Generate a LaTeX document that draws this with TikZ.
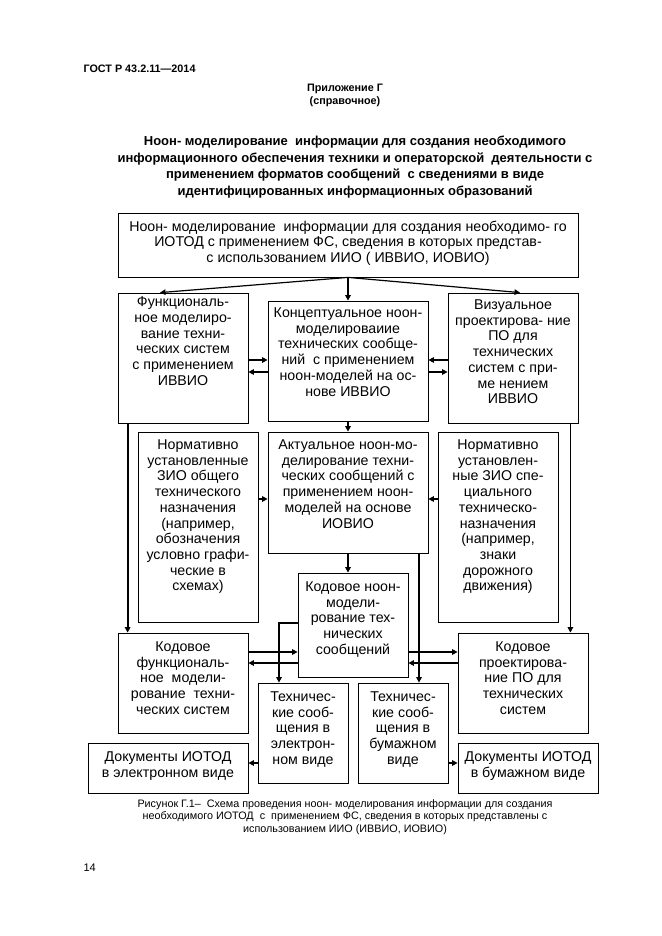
\documentclass[tikz,border=0pt]{standalone}
\usepackage{fontspec}
\setmainfont{Liberation Sans}
\usetikzlibrary{arrows.meta}

\begin{document}
\begin{tikzpicture}[x=1pt,y=-1pt,>={Triangle[length=5.5pt,width=5.5pt]},
    box/.style={draw,line width=0.8pt,inner sep=0pt},
    boxtext/.style={align=center,inner sep=0pt,font=\fontsize{14.2}{15.7}\selectfont},
    link/.style={->,line width=1.8pt}]
    \useasboundingbox (0,0) rectangle (661,936);

    \node [anchor=west,font=\fontsize{10.8}{13}\selectfont\bfseries] (gostNode) at (80,69) {ГОСТ Р 43.2.11—2014};
    \node [align=center,font=\fontsize{10.8}{13}\selectfont\bfseries] (appendixNode) at (345,95) {Приложение Г\\(справочное)};
    \node [align=center,font=\fontsize{13}{16.4}\selectfont\bfseries] (titleNode) at (355,167) {Ноон- моделирование\ \ информации для создания необходимого\\информационного обеспечения техники и операторской\ \ деятельности с\\применением форматов сообщений\ \ с сведениями в виде\\идентифицированных информационных образований};

    % boxes
    \node [box,minimum width=460pt,minimum height=64pt] (topNode) at (348,245) {};
    \node [box,minimum width=130pt,minimum height=130pt] (funcNode) at (183,358) {};
    \node [box,minimum width=160pt,minimum height=120pt] (conceptNode) at (348,361) {};
    \node [box,minimum width=130pt,minimum height=130pt] (visualNode) at (513,358) {};
    \node [box,minimum width=120pt,minimum height=190pt] (normLeftNode) at (198,527) {};
    \node [box,minimum width=160pt,minimum height=121pt] (actualNode) at (348,492.5) {};
    \node [box,minimum width=120pt,minimum height=190pt] (normRightNode) at (498,527) {};
    \node [box,minimum width=110pt,minimum height=104pt] (kodNoonNode) at (353,625) {};
    \node [box,minimum width=130pt,minimum height=100pt] (kodFuncNode) at (183,683) {};
    \node [box,minimum width=130pt,minimum height=100pt] (kodProjNode) at (523,683) {};
    \node [box,minimum width=90pt,minimum height=100pt] (techElNode) at (303,733) {};
    \node [box,minimum width=90pt,minimum height=100pt] (techPaperNode) at (403,733) {};
    \node [box,minimum width=160pt,minimum height=50pt] (docElNode) at (168,768) {};
    \node [box,minimum width=140pt,minimum height=50pt] (docPaperNode) at (528,768) {};

    \node [boxtext,below=8pt] (topText) at (topNode.north) {Ноон- моделирование\ \ информации для создания необходимо- го\\ИОТОД с применением ФС, сведения в которых представ-\\с использованием ИИО ( ИВВИО, ИОВИО)};
    \node [boxtext,below=4pt] (funcText) at (funcNode.north) {Функциональ-\\ное моделиро-\\вание техни-\\ческих систем\\с применением\\ИВВИО};
    \node [boxtext,below=7pt] (conceptText) at (conceptNode.north) {Концептуальное ноон-\\моделироваиие\\технических сообще-\\ний\ \ с применением\\ноон-моделей на ос-\\нове ИВВИО};
    \node [boxtext,below=7pt] (visualText) at (visualNode.north) {Визуальное\\проектирова- ние\\ПО для\\технических\\систем с при-\\ме нением\\ИВВИО};
    \node [boxtext,below=8pt] (normLeftText) at (normLeftNode.north) {Нормативно\\установленные\\ЗИО общего\\технического\\назначения\\(например,\\обозначения\\условно графи-\\ческие в\\схемах)};
    \node [boxtext,below=8pt] (actualText) at (actualNode.north) {Актуальное ноон-мо-\\делирование техни-\\ческих сообщений с\\применением ноон-\\моделей на основе\\ИОВИО};
    \node [boxtext,below=8pt] (normRightText) at (normRightNode.north) {Нормативно\\установлен-\\ные ЗИО спе-\\циального\\техническо-\\назначения\\(например,\\знаки\\дорожного\\движения)};
    \node [boxtext,below=9pt] (kodNoonText) at (kodNoonNode.north) {Кодовое ноон-\\модели-\\рование тех-\\нических\\сообщений};
    \node [boxtext,below=9pt] (kodFuncText) at (kodFuncNode.north) {Кодовое\\функциональ-\\ное\ \ модели-\\рование\ \ техни-\\ческих систем};
    \node [boxtext,below=9pt] (kodProjText) at (kodProjNode.north) {Кодовое\\проектирова-\\ние ПО для\\технических\\систем};
    \node [boxtext,below=9pt] (techElText) at (techElNode.north) {Техничес-\\кие сооб-\\щения в\\электрон-\\ном виде};
    \node [boxtext,below=9pt] (techPaperText) at (techPaperNode.north) {Техничес-\\кие сооб-\\щения в\\бумажном\\виде};
    \node [boxtext,below=9pt] (docElText) at (docElNode.north) {Документы ИОТОД\\в электронном виде};
    \node [boxtext,below=9pt] (docPaperText) at (docPaperNode.north) {Документы ИОТОД\\в бумажном виде};

    % connectors
    \draw [link] (topNode.south) -- (conceptNode.north);
    \draw [link,line width=1.2pt] (topNode.south) -- ([xshift=-23pt]funcNode.north);
    \draw [link,line width=1.2pt] (topNode.south) -- ([xshift=7pt]visualNode.north);

    \draw [link] (funcNode.east |- 0,360) -- (conceptNode.west |- 0,360);
    \draw [link] (conceptNode.west |- 0,372) -- (funcNode.east |- 0,372);
    \draw [link] (visualNode.west |- 0,360) -- (conceptNode.east |- 0,360);
    \draw [link] (conceptNode.east |- 0,372) -- (visualNode.west |- 0,372);

    \draw [link] (conceptNode.south) -- (actualNode.north);
    \draw [link] ([xshift=10pt]funcNode.south west) -- ([xshift=10pt]kodFuncNode.north west);
    \draw [link] ([xshift=-8pt]visualNode.south east) -- ([xshift=-18pt]kodProjNode.north east);

    \draw [link] (normLeftNode.east |- 0,499) -- (actualNode.west |- 0,499);
    \draw [link] (normRightNode.west |- 0,499) -- (actualNode.east |- 0,499);

    \draw [link] (actualNode.south) -- (actualNode.south |- kodNoonNode.north);
    \draw [link] (actualNode.south -| 419,0) -- (techPaperNode.north -| 419,0);
    \draw [link] (kodNoonNode.west |- 0,623) -| (techElNode.north -| 279,0);

    \draw [link] (kodFuncNode.east |- 0,652) -- (kodNoonNode.west |- 0,652);
    \draw [link] (kodNoonNode.west |- 0,663) -- (kodFuncNode.east |- 0,663);
    \draw [link] (kodNoonNode.east |- 0,652) -- (kodProjNode.west |- 0,652);
    \draw [link] (kodProjNode.west |- 0,663) -- (kodNoonNode.east |- 0,663);

    \draw [link] (techElNode.west |- 0,763) -- (docElNode.east |- 0,763);
    \draw [link] (techPaperNode.east |- 0,763) -- (docPaperNode.west |- 0,763);

    \node [align=center,font=\fontsize{10.8}{12.6}\selectfont] (captionNode) at (345,817) {Рисунок Г.1–\ \ Схема проведения ноон- моделирования информации для создания\\необходимого ИОТОД\ \ с\ \ применением ФС, сведения в которых представлены с\\использованием ИИО (ИВВИО, ИОВИО)};
    \node [anchor=west,font=\fontsize{11}{13}\selectfont] (pageNode) at (80,868) {14};
  \end{tikzpicture}
\end{document}
